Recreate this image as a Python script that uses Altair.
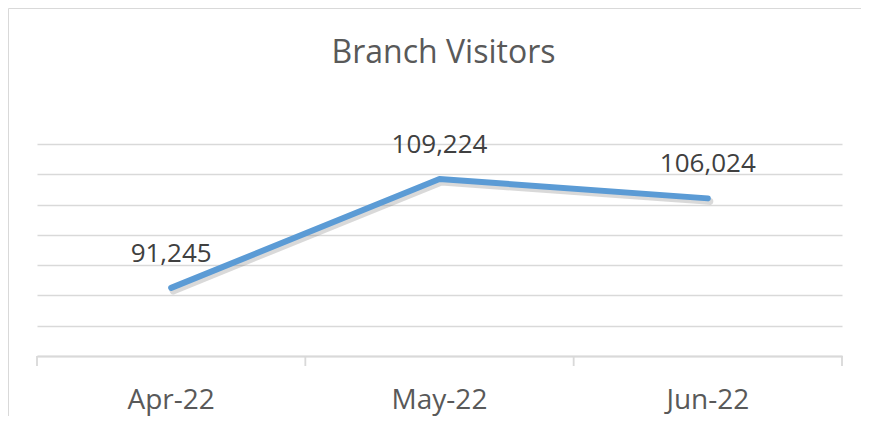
import altair as alt
import pandas as pd

months = ["Apr-22", "May-22", "Jun-22"]
visitors = [91245, 109224, 106024]
grid_values = [80000, 85000, 90000, 95000, 100000, 105000, 110000, 115000]
title_text = ["Branch Visitors"]

df = pd.DataFrame({"month": months, "visitors": visitors})

W, H = 805, 212
FONT = "Open Sans"
GRID = "#D9D9D9"

xscale = alt.Scale(type="band", domain=months, paddingInner=0, paddingOuter=0)
yscale = alt.Scale(domain=[80000, 115000], nice=False, zero=False)

base = alt.Chart(df)

x_axis = alt.Axis(
    title=None, domain=True, domainColor=GRID, domainWidth=1.8, ticks=False,
    labelFont=FONT, labelFontSize=28, labelColor="#595959", labelPadding=52,
    labelBaseline="alphabetic", grid=False, labelAngle=0,
)
y_axis = alt.Axis(
    title=None, values=grid_values, grid=True, gridColor=GRID, gridWidth=1.3,
    domain=False, ticks=False, labels=False,
)


def xenc(bp):
    return alt.X("month:N", sort=months, scale=xscale, axis=x_axis, bandPosition=bp)


yenc = alt.Y("visitors:Q", scale=yscale, axis=y_axis)

shadow = base.mark_line(
    color="#808080", opacity=0.3, strokeWidth=7, strokeCap="round",
    strokeJoin="round", xOffset=2, yOffset=3,
).encode(x=xenc(0.5), y=yenc)

line = base.mark_line(
    color="#5B9BD5", strokeWidth=6, strokeCap="round", strokeJoin="round",
).encode(x=xenc(0.5), y=yenc)

labels = base.mark_text(
    font=FONT, fontSize=26, color="#404040", baseline="alphabetic", dy=-26,
).encode(
    x=xenc(0.5),
    y=yenc,
    text=alt.Text("visitors:Q", format=","),
)

tick_rules = base.mark_rule(color=GRID, strokeWidth=1.8).encode(
    x=xenc(0),
    y=alt.value(H),
    y2=alt.value(H + 10),
)

last_tick = base.transform_filter(alt.datum.month == months[-1]).mark_rule(
    color=GRID, strokeWidth=1.8
).encode(
    x=xenc(1),
    y=alt.value(H),
    y2=alt.value(H + 10),
)

frame = alt.Chart(pd.DataFrame({"k": [0]})).mark_rect(
    fill="transparent", stroke=GRID, strokeWidth=1,
).encode(
    x=alt.value(-28.5), x2=alt.value(W + 300),
    y=alt.value(-135.5), y2=alt.value(H + 300),
)

title = alt.Chart(pd.DataFrame({"t": title_text})).mark_text(
    font=FONT, fontSize=32, color="#595959", baseline="alphabetic", align="center",
).encode(
    text="t:N",
    x=alt.value(W / 2 + 4),
    y=alt.value(-81),
)

chart = alt.layer(frame, shadow, line, labels, tick_rules, last_tick, title).properties(
    width=W, height=H,
    autosize=alt.AutoSizeParams(type="none"),
    padding={"left": 29, "top": 136, "right": 19, "bottom": 60},
    background="white",
).configure_view(strokeWidth=0)

chart.save("out.html", embed_options={"renderer": "svg", "actions": False})
